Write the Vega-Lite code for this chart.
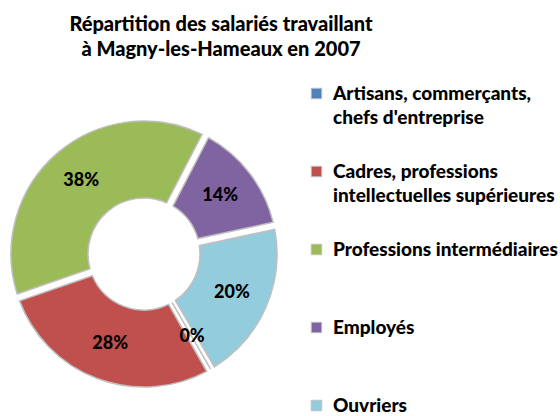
{
  "$schema": "https://vega.github.io/schema/vega-lite/v6.json",
  "width": 260,
  "height": 260,
  "autosize": "none",
  "padding": {"top": 124, "left": 14, "right": 286, "bottom": 32},
  "background": "white",
  "title": {
    "text": ["Répartition des salariés travaillant", "à Magny-les-Hameaux en 2007"],
    "font": "Lato",
    "fontSize": 20,
    "fontWeight": 900,
    "color": "black",
    "anchor": "middle",
    "dx": 77,
    "offset": 24,
    "lineHeight": 25
  },
  "data": {
    "values": [
      {"categorie": "Artisans, commerçants, chefs d'entreprise", "share": 0.002, "rank": 1},
      {"categorie": "Cadres, professions intellectuelles supérieures", "share": 0.28, "rank": 2},
      {"categorie": "Professions intermédiaires", "share": 0.38, "rank": 3},
      {"categorie": "Employés", "share": 0.14, "rank": 4},
      {"categorie": "Ouvriers", "share": 0.20, "rank": 5}
    ]
  },
  "encoding": {
    "theta": {"field": "share", "type": "quantitative", "stack": true, "scale": {"range": [2.611, 8.894]}},
    "order": {"field": "rank", "type": "quantitative"},
    "color": {
      "field": "categorie",
      "type": "nominal",
      "scale": {
        "domain": ["Artisans, commerçants, chefs d'entreprise", "Cadres, professions intellectuelles supérieures", "Professions intermédiaires", "Employés", "Ouvriers"],
        "range": ["#4F81BD", "#C0504D", "#9BBB59", "#8064A2", "#93CDDD"]
      },
      "legend": {
        "orient": "none",
        "legendX": 293,
        "legendY": -40,
        "title": null,
        "padding": 0,
        "symbolType": "square",
        "symbolSize": 110,
        "symbolStrokeColor": "#bfbfbf",
        "symbolStrokeWidth": 1,
        "symbolOpacity": 1,
        "labelFont": "Lato",
        "labelFontSize": 19,
        "labelFontWeight": 900,
        "labelColor": "black",
        "labelLimit": 300,
        "labelOffset": 7,
        "rowPadding": 34,
        "labelExpr": "datum.label == \"Artisans, commerçants, chefs d'entreprise\" ? [\"Artisans, commerçants,\", \"chefs d'entreprise\"] : datum.label == \"Cadres, professions intellectuelles supérieures\" ? [\"Cadres, professions\", \"intellectuelles supérieures\"] : [datum.label, \"\"]"
      }
    }
  },
  "layer": [
    {"mark": {"type": "arc", "radius": 133, "radius2": 56, "padAngle": 0.05, "stroke": "#bfbfbf", "strokeWidth": 1.5}},
    {
      "mark": {"type": "text", "radius": 96, "font": "Lato", "fontSize": 18, "fontWeight": 900},
      "encoding": {
        "text": {"field": "share", "type": "quantitative", "format": ".0%"},
        "color": {"value": "black"}
      }
    }
  ],
  "config": {"view": {"stroke": null}, "style": {"guide-label": {"lineHeight": 24}}}
}
